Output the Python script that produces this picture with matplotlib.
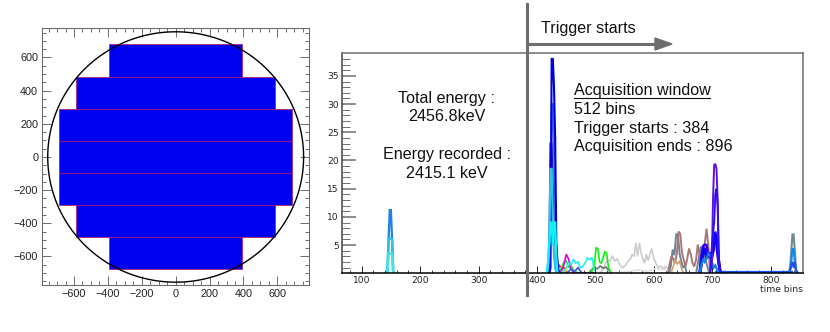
#!/usr/bin/env python3
import matplotlib
matplotlib.use("Agg")
import matplotlib.pyplot as plt
from matplotlib.lines import Line2D
from matplotlib.patches import Polygon
import numpy as np

plt.rcParams['font.family'] = ['Liberation Sans', 'DejaVu Sans']

W = 830
H = 332
GREY = '#6e6e6e'

# detector rows, left panel
row_bottom = [-677, -483, -288, -98, 95, 291, 480]
row_top = [-483, -288, -98, 95, 291, 480, 680]
row_halfwidth = [392, 588, 686, 686, 686, 588, 392]
circle_radius = 755

# time bin histograms, right panel
spike150_x = [144, 146, 148, 150, 152, 154]
spike150_a = [0, 6, 11.2, 11.2, 6, 0]
spike150_b = [0, 6, 6.2, 6.2, 6, 0]
spike150_c = [0, 3.5, 3.5, 3.5, 3.5, 0]

main_x = [417, 419, 421, 423, 425, 427, 429, 431, 433, 435, 437]
main_navy = [0, 1, 3, 23, 23, 15, 12, 5, 5, 1, 0]
main_mid = [0, 0, 1, 6, 30, 30, 22, 9, 2, 1, 0]
main_blue = [0, 0, 0, 1, 38, 38, 33, 24, 5, 2, 0]
main_sky = [0, 2, 6, 18.5, 18.5, 10, 3, 1, 0, 0, 0]
main_cyan = [0, 2, 5, 9, 9, 5, 9, 9, 3, 0, 0]

low_x = [434, 438, 442, 446, 450, 454, 458, 462, 466, 470, 474, 478, 482, 486, 490, 494, 498]
low_red = [0, 1.5, 0.6, 1, 0.4, 0, 0, 0, 0, 0, 0, 0, 0, 0, 0, 0, 0]
low_yellow = [0, 0.5, 1.1, 0.3, 0.8, 0, 0, 0, 0, 0, 0, 0, 0, 0, 0, 0, 0]
low_green = [0, 0.3, 1, 2, 2.2, 1, 1.4, 0.6, 0.3, 0, 0, 0, 0, 0, 0, 0, 0]
low_magenta = [0, 0, 0.5, 1.5, 3.4, 2.5, 0.8, 0.2, 0, 0, 0, 0, 0, 0, 0, 0, 0]
low_cyan = [0, 0, 0, 0.4, 1, 1.8, 1.5, 2.5, 1.8, 2, 1, 1.2, 1.8, 2.7, 2.4, 2.8, 0.6]
low_royal = [0, 0, 0, 0, 0, 0.3, 0.8, 0.3, 0.5, 1, 0.4, 0, 0, 0, 0, 0, 0]

green_x = [490, 494, 498, 501, 504, 507, 510, 513, 516, 519, 522, 526]
green_y = [0, 0.4, 1.5, 4.5, 4.4, 2, 1.8, 2.8, 3.8, 3.6, 1.2, 0]
dgrey_x = [488, 493, 498, 503, 508, 513, 518, 523, 528]
dgrey_y = [0, 0.6, 1, 0.8, 1.3, 0.9, 1.1, 0.5, 0]

grey1_x = [508, 513, 517, 521, 525, 529, 533, 537, 542, 547, 552, 556, 560, 563, 566, 569, 572, 575, 578, 581, 584, 587, 590, 593, 596, 600, 604, 608, 612, 616, 620, 625, 630]
grey1_y = [0, 0.8, 1.8, 2.4, 2.2, 3.1, 2.1, 2.6, 1.4, 1, 1.5, 2.2, 2.6, 3.4, 3, 5.4, 3, 5.4, 3.6, 2.6, 1.8, 3.4, 2.2, 3.4, 4.4, 2.6, 1.6, 1, 1.3, 0.8, 1.2, 0.7, 0]
grey2_x = [535, 545, 555, 565, 575, 585, 595, 604, 610, 616, 622, 628, 636]
grey2_y = [0, 0.2, 0.3, 0.5, 0.6, 0.4, 0.5, 0.9, 0.6, 0.8, 0.5, 0.7, 0]

brown_x = [624, 627, 630, 633, 636, 639, 642, 645, 648, 651, 654, 657, 660, 663, 666, 669, 672, 675, 678, 681, 684, 687, 690, 693, 696]
brown_y = [0, 1.8, 3, 2.6, 1.8, 3.4, 7.4, 7, 3.6, 2.4, 1.2, 2.6, 4.4, 3.4, 1.8, 1.2, 2.4, 5.1, 3.2, 1.2, 3.4, 5.4, 7.9, 5, 0]
slate_x = [626, 629, 632, 635, 638, 641, 644, 647, 650, 653, 656, 672, 676, 680, 683, 686, 689, 692, 695]
slate_y = [0, 1.4, 4.2, 3.2, 6.9, 6.9, 3.4, 2, 1, 1.4, 0, 0, 2.2, 4.6, 4.6, 3, 2, 1, 0]
tan_x = [628, 632, 636, 640, 644, 648, 652]
tan_y = [0, 0.8, 2.4, 1.6, 2.2, 0.5, 0]

cluster_x = [678, 681, 684, 687, 690, 693, 696, 699, 702, 705, 708, 711, 714]
cluster_blue = [0, 1.5, 2.4, 2, 2.6, 3.5, 3.2, 2, 1, 1.4, 0.6, 0.2, 0]
cluster_indigo = [0, 3, 4.8, 5.1, 5, 3.2, 2.8, 3.4, 5.2, 7, 6, 2.4, 0]
cluster_mid = [0, 1.2, 3.2, 4, 3, 3.5, 3.5, 3, 4, 7.4, 5, 2, 0]
cluster_fill = [0, 2, 4, 4.5, 2.8, 3, 3.4, 2.4, 5, 7, 4, 1.4, 0]
violet_x = [696, 699, 701, 703, 705, 707, 709, 711, 714]
violet_y = [0, 1.5, 13, 19.2, 19.4, 18.5, 13, 2, 0]
purple_y = [0, 4.5, 7, 9, 14, 15, 12, 2, 0]

flat_x = [706, 836]
flat_y = [0.15, 0.15]
end_x = [830, 833, 835, 837, 839, 841, 843, 846]
end_slate = [0, 1, 4, 6.9, 6.9, 4, 0.6, 0]
end_dodger = [0, 0.5, 2, 4.3, 4.3, 2, 0.5, 0]
end_royal = [0, 0.6, 1.4, 2, 1, 2, 0.6, 0]


def ax_box(left, top, right, bottom):
	return [left / W, 1 - bottom / H, (right - left) / W, (bottom - top) / H]


def fx(x):
	return x / W


def fy(y):
	return 1 - y / H


def hist(ax, x, y, color, lw=1.2):
	ax.plot(x, y, color=color, lw=lw, solid_joinstyle='miter')


fig = plt.figure(figsize=(8.3, 3.32), dpi=100)

# left panel
ax1 = fig.add_axes(ax_box(42.3, 28.3, 308.7, 285))
ax1.set_xlim(-787, 785)
ax1.set_ylim(-772, 776)
for b, t, hw in zip(row_bottom, row_top, row_halfwidth):
	ax1.bar(0, t - b, width=2 * hw, bottom=b, color='#0000f0', edgecolor='#b01860', lw=0.5, zorder=2)
theta = np.radians(np.arange(0, 361))
ax1.plot(circle_radius * np.cos(theta), circle_radius * np.sin(theta), color='black', lw=1.0, zorder=3)
ax1.set_xticks(np.arange(-600, 601, 200))
ax1.set_yticks(np.arange(-600, 601, 200))
ax1.set_xticks(np.arange(-750, 751, 50), minor=True)
ax1.set_yticks(np.arange(-750, 751, 50), minor=True)
ax1.tick_params(which='major', direction='in', top=True, right=True, length=6.5, width=0.7,
	color=GREY, labelsize=7.8, labelcolor='#222222', pad=3)
ax1.tick_params(which='minor', direction='in', top=True, right=True, length=3, width=0.7, color=GREY)
ax1.set_xticklabels(['\u2212600', '\u2212400', '\u2212200', '0', '200', '400', '600'])
ax1.set_yticklabels(['\u2212600', '\u2212400', '\u2212200', '0', '200', '400', '600'])
for s in ax1.spines.values():
	s.set_color(GREY)
	s.set_linewidth(0.8)

# right panel
ax2 = fig.add_axes(ax_box(341.7, 53.3, 803, 273.3))
ax2.set_xlim(65.8, 855)
ax2.set_ylim(0, 39)

hist(ax2, spike150_x, spike150_a, '#1e80e8', 1.6)
hist(ax2, spike150_x, spike150_b, '#30c0e0', 1.8)
hist(ax2, spike150_x, spike150_c, '#40e8e0', 1.8)

hist(ax2, grey2_x, grey2_y, '#e2e2e2')
hist(ax2, grey1_x, grey1_y, '#cccccc')
hist(ax2, dgrey_x, dgrey_y, '#707070')
hist(ax2, green_x, green_y, '#10f010')
hist(ax2, low_x, low_red, '#e02020')
hist(ax2, low_x, low_yellow, '#f0f020')
hist(ax2, low_x, low_green, '#20e040')
hist(ax2, low_x, low_magenta, '#f000e0')
hist(ax2, low_x, low_cyan, '#20f0f0')
hist(ax2, low_x, low_royal, '#4050d8')

hist(ax2, slate_x, slate_y, '#6a8598', 1.4)
hist(ax2, brown_x, brown_y, '#a87878', 1.4)
hist(ax2, tan_x, tan_y, '#d0a070')

hist(ax2, flat_x, flat_y, '#1450f0', 1.6)
hist(ax2, cluster_x, cluster_indigo, '#3000f0', 1.8)
hist(ax2, cluster_x, cluster_mid, '#2010f0', 1.8)
hist(ax2, cluster_x, cluster_fill, '#1000f8', 1.8)
hist(ax2, cluster_x, cluster_blue, '#1080f0', 1.6)
hist(ax2, violet_x, violet_y, '#6010e0', 1.4)
hist(ax2, violet_x, purple_y, '#3010f0', 1.4)

hist(ax2, end_x, end_slate, '#6f8a90', 1.5)
hist(ax2, end_x, end_dodger, '#1088f0', 1.5)
hist(ax2, end_x, end_royal, '#2050f0', 1.5)

hist(ax2, main_x, main_navy, '#1010a8', 1.5)
hist(ax2, main_x, main_mid, '#5068e0', 1.5)
hist(ax2, main_x, main_blue, '#0000e0', 1.5)
hist(ax2, main_x, main_sky, '#30c0e8', 1.6)
hist(ax2, main_x, main_cyan, '#10f0f0', 1.6)

ax2.set_xticks(np.arange(100, 801, 100))
ax2.set_xticks(np.arange(80, 851, 20), minor=True)
ax2.set_yticks(np.arange(5, 36, 5))
ax2.set_yticks(np.arange(1, 39, 1), minor=True)
ax2.tick_params(axis='x', which='major', direction='in', length=5, width=0.7, color='#222222',
	labelsize=6.6, labelcolor='#222222', pad=2, labelfontfamily='DejaVu Sans')
ax2.tick_params(axis='x', which='minor', direction='in', length=2.5, width=0.7, color='#444444')
ax2.tick_params(axis='y', which='major', direction='in', length=10, width=1.1, color=GREY,
	labelsize=6.6, labelcolor='#222222', pad=2, labelfontfamily='DejaVu Sans')
ax2.tick_params(axis='y', which='minor', direction='in', length=6, width=0.7, color=GREY)
for s in ax2.spines.values():
	s.set_color(GREY)
	s.set_linewidth(1.1)
ax2.spines['bottom'].set_color('black')
ax2.spines['left'].set_color('#444444')

fig.text(fx(803), fy(289), 'time bins', ha='right', va='center', fontsize=6.6, color='#222222', family='DejaVu Sans')

# annotations drawn over both panels
fig.add_artist(Line2D([fx(526.5), fx(526.5)], [fy(4), fy(295)], color=GREY, lw=2.2))
fig.add_artist(Line2D([fx(527), fx(657)], [fy(44), fy(44)], color=GREY, lw=2.2))
fig.add_artist(Polygon([[fx(655), fy(38)], [fx(672), fy(44)], [fx(655), fy(50)]], closed=True,
	color=GREY, transform=fig.transFigure))

fig.text(fx(541), fy(28), 'Trigger starts', ha='left', va='center', fontsize=11.6, color='#111111')

for y, s in zip([98, 117, 155, 174], ['Total energy :', '2456.8keV', 'Energy recorded :', '2415.1 keV']):
	fig.text(fx(446.7), fy(y), s, ha='center', va='center', fontsize=11.6, color='#111111')

for y, s in zip([90, 109, 128, 147], ['Acquisition window', '512 bins', 'Trigger starts : 384', 'Acquisition ends : 896']):
	fig.text(fx(573.5), fy(y), s, ha='left', va='center', fontsize=11.6, color='#111111')
fig.add_artist(Line2D([fx(573.5), fx(710)], [fy(97.5), fy(97.5)], color='#111111', lw=0.8))

fig.savefig('out.png', dpi=100)
plt.close()
